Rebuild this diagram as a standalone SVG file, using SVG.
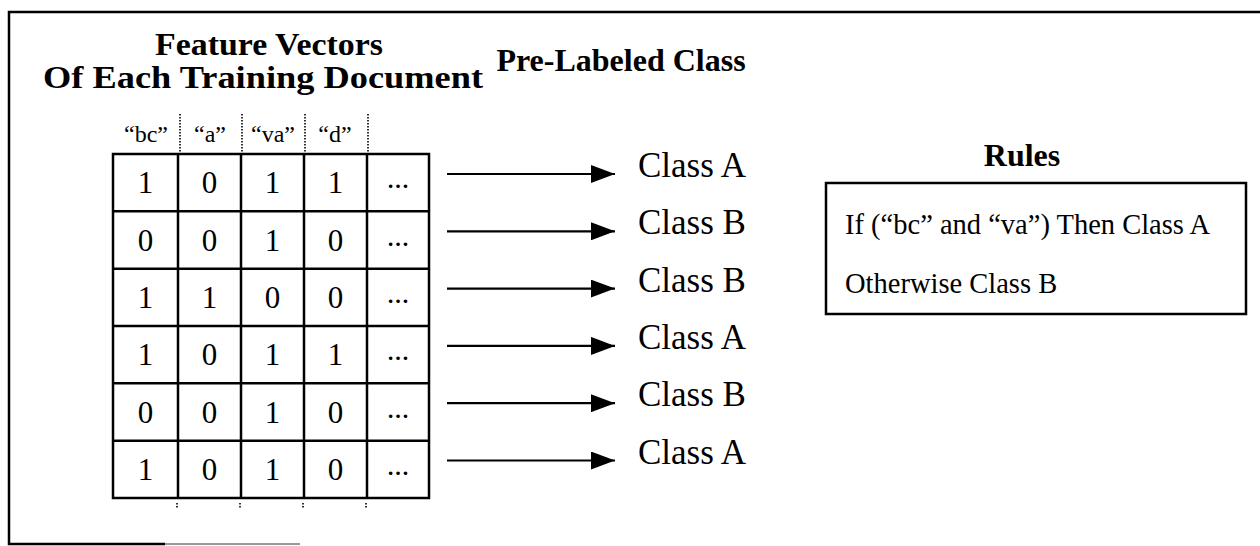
<svg xmlns="http://www.w3.org/2000/svg" width="1260" height="546" viewBox="0 0 1260 546">
  <defs>
    <style>
      text { font-family: "Liberation Serif", "Times New Roman", serif; fill: #000; }
      .title { font-size: 32px; font-weight: bold; text-anchor: middle; }
      .hdr { font-size: 24px; text-anchor: middle; }
      .cell { font-size: 31px; text-anchor: middle; }
      .dots { font-size: 22px; font-weight: bold; text-anchor: middle; }
      .cls { font-size: 35px; }
      .rule { font-size: 28.5px; }
      .grid { stroke: #000; stroke-width: 2.5; fill: none; }
      .sep { stroke: #000; stroke-width: 1.6; stroke-dasharray: 1.5 1.5; fill: none; }
      .arrow { stroke: #000; stroke-width: 2.2; fill: none; marker-end: url(#head); }
      .frame { stroke: #000; stroke-width: 2.5; fill: none; }
    </style>
    <marker id="head" markerUnits="userSpaceOnUse" markerWidth="24" markerHeight="18" refX="24" refY="9" orient="auto">
      <path d="M0,0 L24,9 L0,18 Z" fill="#000"/>
    </marker>
  </defs>

  <rect width="1260" height="546" fill="#fff"/>

  <!-- outer frame (top, left, partial bottom) -->
  <g id="frame">
    <path class="frame" d="M1260,12 H9 V544 H165"/>
    <path d="M165,544 H300" stroke="#9a9a9a" stroke-width="2"/>
  </g>

  <!-- headings -->
  <g id="heading-features">
    <text class="title" x="269" y="55" textLength="228" lengthAdjust="spacingAndGlyphs">Feature Vectors</text>
    <text class="title" x="263" y="88" textLength="440" lengthAdjust="spacingAndGlyphs">Of Each Training Document</text>
  </g>
  <g id="heading-classes">
    <text class="title" x="621" y="71">Pre-Labeled Class</text>
  </g>

  <!-- feature vector table -->
  <g id="feature-table">
    <text class="hdr" x="146" y="142">“bc”</text>
    <text class="hdr" x="210" y="142">“a”</text>
    <text class="hdr" x="273" y="142">“va”</text>
    <text class="hdr" x="335" y="142">“d”</text>
    <path class="sep" d="M180,114 V152 M242,114 V152 M305,114 V152 M368,114 V152"/>
    <path class="sep" d="M177,503 V509 M240,503 V509 M303,503 V509 M366,503 V509"/>

    <rect class="grid" x="113" y="154" width="316" height="344"/>
    <path class="grid" d="M178,154 V498 M241,154 V498 M304,154 V498 M367,154 V498
      M113,211.3 H429 M113,268.7 H429 M113,326 H429 M113,383.3 H429 M113,440.7 H429"/>

    <g id="row1">
      <text class="cell" x="145.5" y="193">1</text><text class="cell" x="209.5" y="193">0</text>
      <text class="cell" x="272.5" y="193">1</text><text class="cell" x="335.5" y="193">1</text>
      <text class="dots" x="398" y="188">…</text>
    </g>
    <g id="row2">
      <text class="cell" x="145.5" y="250.5">0</text><text class="cell" x="209.5" y="250.5">0</text>
      <text class="cell" x="272.5" y="250.5">1</text><text class="cell" x="335.5" y="250.5">0</text>
      <text class="dots" x="398" y="245.5">…</text>
    </g>
    <g id="row3">
      <text class="cell" x="145.5" y="308">1</text><text class="cell" x="209.5" y="308">1</text>
      <text class="cell" x="272.5" y="308">0</text><text class="cell" x="335.5" y="308">0</text>
      <text class="dots" x="398" y="303">…</text>
    </g>
    <g id="row4">
      <text class="cell" x="145.5" y="365">1</text><text class="cell" x="209.5" y="365">0</text>
      <text class="cell" x="272.5" y="365">1</text><text class="cell" x="335.5" y="365">1</text>
      <text class="dots" x="398" y="360">…</text>
    </g>
    <g id="row5">
      <text class="cell" x="145.5" y="422.5">0</text><text class="cell" x="209.5" y="422.5">0</text>
      <text class="cell" x="272.5" y="422.5">1</text><text class="cell" x="335.5" y="422.5">0</text>
      <text class="dots" x="398" y="417.5">…</text>
    </g>
    <g id="row6">
      <text class="cell" x="145.5" y="480">1</text><text class="cell" x="209.5" y="480">0</text>
      <text class="cell" x="272.5" y="480">1</text><text class="cell" x="335.5" y="480">0</text>
      <text class="dots" x="398" y="475">…</text>
    </g>
  </g>

  <!-- class labels -->
  <g id="class-labels">
    <text class="cls" x="638" y="177">Class A</text>
    <text class="cls" x="638" y="234.3">Class B</text>
    <text class="cls" x="638" y="291.6">Class B</text>
    <text class="cls" x="638" y="348.9">Class A</text>
    <text class="cls" x="638" y="406.2">Class B</text>
    <text class="cls" x="638" y="463.5">Class A</text>
  </g>

  <!-- connectors -->
  <g id="connectors">
    <line class="arrow" x1="447" y1="174" x2="615" y2="174"/>
    <line class="arrow" x1="447" y1="231.3" x2="615" y2="231.3"/>
    <line class="arrow" x1="447" y1="288.6" x2="615" y2="288.6"/>
    <line class="arrow" x1="447" y1="345.9" x2="615" y2="345.9"/>
    <line class="arrow" x1="447" y1="403.2" x2="615" y2="403.2"/>
    <line class="arrow" x1="447" y1="460.5" x2="615" y2="460.5"/>
  </g>

  <!-- rules -->
  <g id="rules">
    <text class="title" x="1022" y="166">Rules</text>
    <rect class="grid" x="826" y="183" width="420" height="131"/>
    <text class="rule" x="845" y="234">If (“bc” and “va”) Then Class A</text>
    <text class="rule" x="845" y="293">Otherwise Class B</text>
  </g>
</svg>
